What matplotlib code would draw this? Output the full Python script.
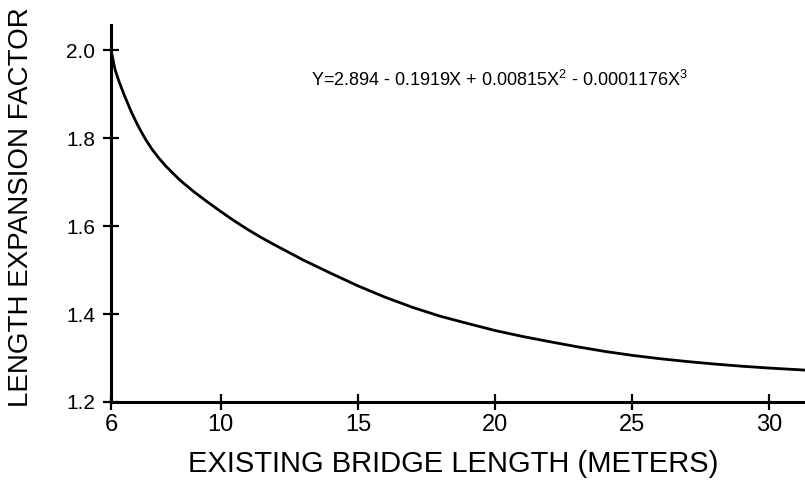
import matplotlib.pyplot as plt
import numpy as np

plt.rcParams['font.family'] = ['Liberation Sans', 'DejaVu Sans']
plt.rcParams['mathtext.default'] = 'regular'

# points
bridge_len = [6.0, 6.15, 6.3, 6.5, 6.75, 7.0, 7.25, 7.5, 7.75, 8.0, 8.5, 9.0,
              9.5, 10.0, 10.5, 11.0, 11.5, 12.0, 13.0, 14.0, 15.0, 16.0, 17.0,
              18.0, 19.0, 20.0, 21.0, 22.0, 23.0, 24.0, 25.0, 26.0, 27.0, 28.0,
              29.0, 30.0, 31.3]
factor = [2.000, 1.955, 1.927, 1.895, 1.858, 1.826, 1.798, 1.774, 1.754, 1.736,
          1.705, 1.679, 1.6555, 1.633, 1.6115, 1.5915, 1.573, 1.556, 1.523,
          1.493, 1.464, 1.438, 1.415, 1.395, 1.3785, 1.3625, 1.349, 1.337,
          1.3255, 1.315, 1.306, 1.2985, 1.292, 1.2863, 1.2813, 1.2771, 1.2725]

x_ticks = [6, 10, 15, 20, 25, 30]
y_ticks = [1.2, 1.4, 1.6, 1.8, 2.0]
y_tick_labels = ['1.2', '1.4', '1.6', '1.8', '2.0']
equation = r'Y=2.894 - 0.1919X + 0.00815X$^2$ - 0.0001176X$^3$'

fig = plt.figure(figsize=(8.05, 4.95), dpi=100)
ax = fig.add_axes([0.1379, 0.1879, 0.8621, 0.7616])

ax.plot(bridge_len, factor, color='black', lw=2.0,
        solid_joinstyle='round', solid_capstyle='round')

ax.set_xlim(6, 31.3)
ax.set_ylim(1.2, 2.057)

ax.spines['top'].set_visible(False)
ax.spines['right'].set_visible(False)
ax.spines['left'].set_linewidth(2.2)
ax.spines['bottom'].set_linewidth(2.2)

ax.set_xticks(x_ticks)
ax.set_xticklabels([str(t) for t in x_ticks], fontsize=17)
ax.set_yticks(y_ticks)
ax.set_yticklabels(y_tick_labels, fontsize=15)
ax.tick_params(axis='both', direction='inout', length=11, width=1.6)
ax.tick_params(axis='x', pad=3)
ax.tick_params(axis='y', pad=6)

ax.set_ylabel('LENGTH EXPANSION FACTOR', fontsize=20)
ax.yaxis.set_label_coords(-0.111, 0.517)
ax.set_xlabel('EXISTING BRIDGE LENGTH (METERS)', fontsize=21)
ax.xaxis.set_label_coords(0.493, -0.128)

ax.text(0.288, 0.855, equation, transform=ax.transAxes, fontsize=13,
        ha='left', va='center')

fig.savefig('out.png', dpi=100)
